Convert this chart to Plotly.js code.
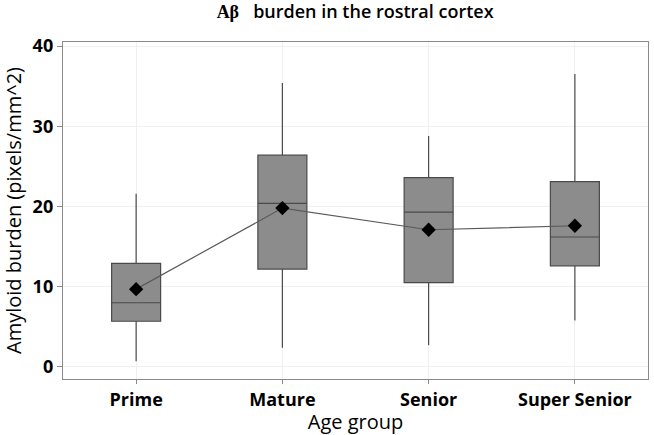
<!DOCTYPE html>
<html>
<head>
<meta charset="utf-8">
<script src="https://cdn.plot.ly/plotly-3.0.1.min.js"></script>
<style>html,body{margin:0;padding:0;background:#fff;}#chart{width:654px;height:435px;}</style>
</head>
<body>
<div id="chart"></div>
<script>
const categories = ["Prime", "Mature", "Senior", "Super Senior"];
const lowerWhisker = [0.7, 2.4, 2.7, 5.8];
const q1Values = [5.7, 12.2, 10.5, 12.6];
const medianValues = [8.0, 20.4, 19.3, 16.2];
const q3Values = [12.9, 26.4, 23.6, 23.1];
const upperWhisker = [21.6, 35.4, 28.8, 36.5];
const meanValues = [9.7, 19.8, 17.1, 17.6];
const yTicks = [0, 10, 20, 30, 40];

const box = {
  type: 'box',
  x: categories,
  q1: q1Values,
  median: medianValues,
  q3: q3Values,
  lowerfence: lowerWhisker,
  upperfence: upperWhisker,
  boxpoints: false,
  width: 0.335,
  whiskerwidth: 0,
  fillcolor: '#8c8c8c',
  line: {color: '#4a4a4a', width: 1.2},
  hoverinfo: 'skip',
  showlegend: false
};
const means = {
  type: 'scatter',
  mode: 'lines+markers',
  x: categories,
  y: meanValues,
  line: {color: '#5a5a5a', width: 1.2},
  marker: {symbol: 'diamond', size: 11, color: '#000'},
  showlegend: false
};
const layout = {
  width: 654, height: 435,
  margin: {l: 63, r: 6, t: 42, b: 56},
  paper_bgcolor: '#fff', plot_bgcolor: '#fff',
  font: {family: 'Open Sans, sans-serif', color: '#000'},
  title: {text: '<span style="font-family:Liberation Serif">Aβ</span>   burden in the rostral cortex',
          font: {size: 18, family: 'Open Sans, sans-serif', weight: 600, color: '#000'},
          x: 0.543, xanchor: 'center', y: 0.972, yanchor: 'middle'},
  xaxis: {
    type: 'category', categoryorder: 'array', categoryarray: categories,
    range: [-0.5, 3.5],
    showline: true, mirror: true, linecolor: '#8a8a8a', linewidth: 1.2,
    showgrid: true, gridcolor: '#f0f0f0', gridwidth: 1,
    ticks: 'outside', ticklen: 4, tickcolor: '#8a8a8a',
    tickfont: {size: 18, weight: 700, color: '#000'},
    title: {text: 'Age group', font: {size: 20, color: '#000'}, standoff: 0},
    zeroline: false
  },
  yaxis: {
    range: [-1.5, 40.5],
    tickvals: yTicks,
    showline: true, mirror: true, linecolor: '#8a8a8a', linewidth: 1.2,
    showgrid: true, gridcolor: '#f0f0f0', gridwidth: 1,
    ticks: 'outside', ticklen: 5, tickcolor: '#8a8a8a',
    tickfont: {size: 18, weight: 700, color: '#000'},
    title: {text: 'Amyloid burden (pixels/mm^2)', font: {size: 20, color: '#000'}, standoff: 6},
    zeroline: false
  }
};
Plotly.newPlot('chart', [box, means], layout, {displayModeBar: false, staticPlot: true});
</script>
</body>
</html>
